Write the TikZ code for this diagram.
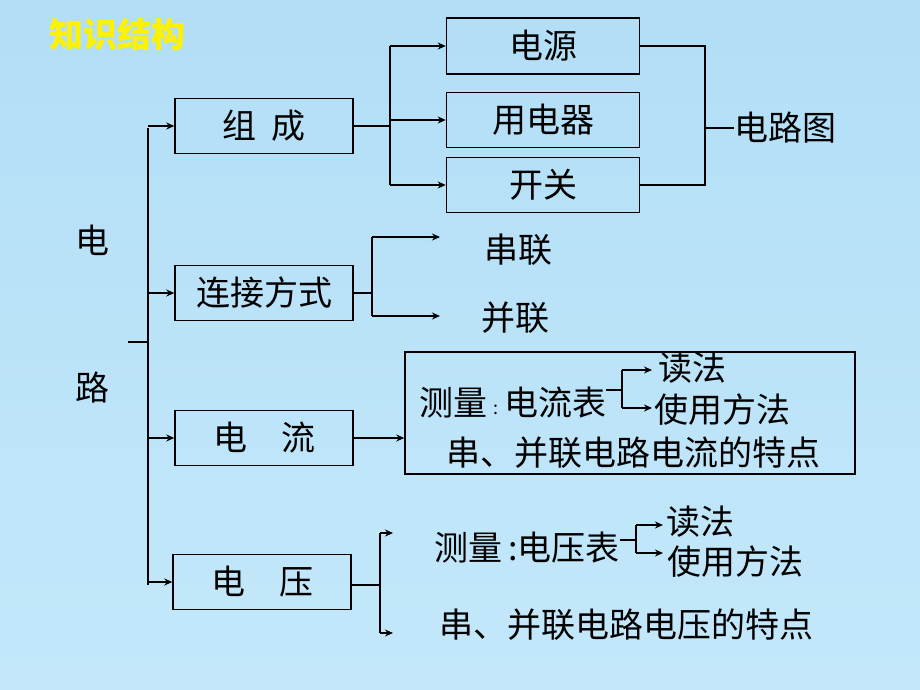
\documentclass[tikz,border=0pt]{standalone}
\usepackage{fontspec}
\setmainfont{Noto Sans CJK SC}
\usetikzlibrary{arrows.meta}
\definecolor{skytop}{RGB}{178,222,246}
\definecolor{skybot}{RGB}{196,232,250}
\tikzset{
  box/.style={draw,line width=1.5pt,minimum width=178pt,minimum height=55pt,inner sep=0pt},
  txt/.style={font=\fontsize{34}{38}\selectfont,inner sep=0pt},
  link/.style={line width=1.2pt},
  arr/.style={link,-{Stealth[length=8pt,width=7pt]}}
}
\begin{document}
\begin{tikzpicture}[x=1pt,y=-1pt]
  \useasboundingbox (0,0) rectangle (920,690);
  \shade[top color=skytop,bottom color=skybot] (0,0) rectangle (920,690);
  \node[font=\fontsize{34}{38}\selectfont\bfseries,text=yellow,inner sep=0pt] (title) at (117,35) {知识结构};
  % left column
  \node[txt] (dian) at (92,240) {电};
  \node[txt] (lu) at (92,388) {路};
  \node[box] (zucheng) at (264,126) {};
  \node[txt] at (zucheng) {组\ \ 成};
  \node[box] (lianjie) at (264,293) {};
  \node[txt] at (lianjie) {连接方式};
  \node[box] (dianliu) at (264,438) {};
  \node[txt] at (dianliu) {电\quad 流};
  \node[box] (dianya) at (262,582) {};
  \node[txt] at (dianya) {电\quad 压};
  \coordinate (root) at (128,342);
  \draw[link] (root) -- (148,342);
  \draw[link] (148,128) -- (148,585);
  \foreach \n in {zucheng,lianjie,dianliu,dianya}
    \draw[arr] (148,0 |- \n.west) -- (\n.west);
  % parts
  \node[box,minimum width=193pt,minimum height=56pt] (dianyuan) at (543,46) {};
  \node[txt] at (dianyuan) {电源};
  \node[box,minimum width=193pt,minimum height=55pt] (yongdian) at (543,120) {};
  \node[txt] at (yongdian) {用电器};
  \node[box,minimum width=193pt,minimum height=55pt] (kaiguan) at (543,185) {};
  \node[txt] at (kaiguan) {开关};
  \draw[link] (zucheng.east) -- (390,126);
  \draw[link] (390,46) -- (390,185);
  \foreach \n in {dianyuan,yongdian,kaiguan}
    \draw[arr] (390,0 |- \n.west) -- (\n.west);
  \node[txt] (tu) at (785,128) {电路图};
  \draw[link] (dianyuan.east) -- (705,46) -- (705,185) -- (kaiguan.east);
  \draw[link] (705,128) -- (tu.west);
  % connection
  \node[txt] (chuan) at (518,250) {串联};
  \node[txt] (bing) at (515,318) {并联};
  \draw[link] (lianjie.east) -- (372,293);
  \draw[link] (372,237) -- (372,316);
  \draw[arr] (372,237) -- (440,237);
  \draw[arr] (372,316) -- (440,316);
  % current
  \node[draw,line width=1.5pt,minimum width=450pt,minimum height=122pt,inner sep=0pt] (liubox) at (630,413) {};
  \draw[arr] (dianliu.east) -- (liubox.west |- dianliu.east);
  \node[txt] (celiu) at (513,403) {测量\,\raisebox{1pt}{\fontsize{18}{18}\selectfont:}\,电流表};
  \node[txt] (dufa1) at (692,368) {读法};
  \node[txt] (shiyong1) at (722,410) {使用方法};
  \node[txt] (tedian1) at (633,453) {串、并联电路电流的特点};
  \draw[link] (celiu.east |- 0,390) -- (622,390);
  \draw[link] (622,370) -- (622,408);
  \draw[arr] (622,370) -- (652,370);
  \draw[arr] (622,408) -- (652,408);
  % voltage
  \node[txt] (ceya) at (527,548) {测量\,:电压表};
  \node[txt] (dufa2) at (700,522) {读法};
  \node[txt] (shiyong2) at (735,562) {使用方法};
  \node[txt] (tedian2) at (626,625) {串、并联电路电压的特点};
  \draw[link] (dianya.east |- 0,585) -- (380,585);
  \draw[link] (380,533) -- (380,633);
  \draw[arr] (380,533) -- (393,533);
  \draw[arr] (380,633) -- (393,633);
  \draw[link] (ceya.east |- 0,540) -- (636,540);
  \draw[link] (636,525) -- (636,553);
  \draw[arr] (636,525) -- (663,525);
  \draw[arr] (636,553) -- (663,553);
\end{tikzpicture}
\end{document}
